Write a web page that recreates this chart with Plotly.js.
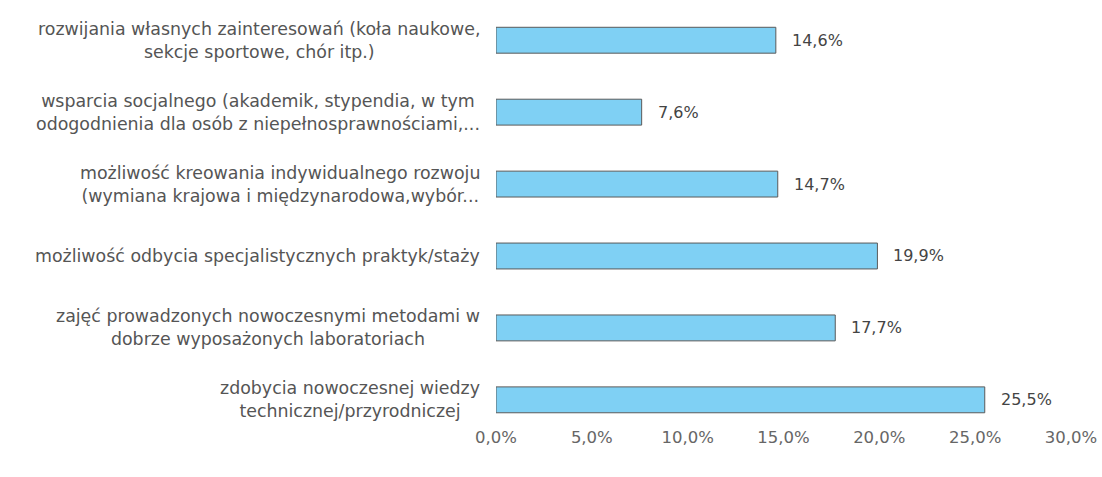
<!DOCTYPE html>
<html><head><meta charset="utf-8">
<script src="https://cdn.plot.ly/plotly-3.0.1.min.js"></script>
<style>body{margin:0;background:#fff}#chart{width:1102px;height:477px}</style>
</head><body><div id="chart"></div>
<script>
// categories listed bottom to top
const categories = [
  "zdobycia nowoczesnej wiedzy<br>technicznej/przyrodniczej",
  "zajęć prowadzonych nowoczesnymi metodami w<br>dobrze wyposażonych laboratoriach",
  "możliwość odbycia specjalistycznych praktyk/staży",
  "możliwość kreowania indywidualnego rozwoju<br>(wymiana krajowa i międzynarodowa,wybór...",
  "wsparcia socjalnego (akademik, stypendia, w tym<br>odogodnienia dla osób z niepełnosprawnościami,...",
  "rozwijania własnych zainteresowań (koła naukowe,<br>sekcje sportowe, chór itp.)"
];
const values = [25.5, 17.7, 19.9, 14.7, 7.6, 14.6];
const tickValues = [0, 5, 10, 15, 20, 25, 30];

const fmt = v => v.toFixed(1).replace('.', ',') + '%';
const idx = categories.map((c, i) => i);

const trace = {
  type: 'bar', orientation: 'h',
  x: values, y: idx,
  marker: {color: '#7fd0f4', line: {color: '#5a5a5a', width: 1}},
  width: 0.36,
  hoverinfo: 'none'
};

const annotations = [];
categories.forEach((c, i) => {
  annotations.push({
    xref: 'paper', yref: 'y', x: 0, y: i, xanchor: 'right', yanchor: 'middle',
    xshift: -14, text: c, align: 'center', showarrow: false,
    font: {family: '"DejaVu Sans", sans-serif', size: 17.4, color: '#555'}
  });
  annotations.push({
    xref: 'x', yref: 'y', x: values[i], y: i, xanchor: 'left', yanchor: 'middle',
    xshift: 14, text: fmt(values[i]), showarrow: false,
    font: {family: '"DejaVu Sans", sans-serif', size: 16, color: '#444'}
  });
});

const layout = {
  width: 1102, height: 477,
  margin: {l: 496, r: 31, t: 5, b: 52},
  paper_bgcolor: '#fff', plot_bgcolor: '#fff',
  showlegend: false,
  xaxis: {
    range: [0, 30], tickvals: tickValues, ticktext: tickValues.map(fmt),
    showgrid: false, zeroline: false, showline: false, ticks: '',
    tickfont: {family: '"DejaVu Sans", sans-serif', size: 16.5, color: '#666'}
  },
  yaxis: {
    range: [-0.35, 5.49], showticklabels: false, showgrid: false,
    zeroline: false, showline: false, ticks: ''
  },
  annotations: annotations
};

Plotly.newPlot('chart', [trace], layout, {displayModeBar: false, staticPlot: true});
</script></body></html>
